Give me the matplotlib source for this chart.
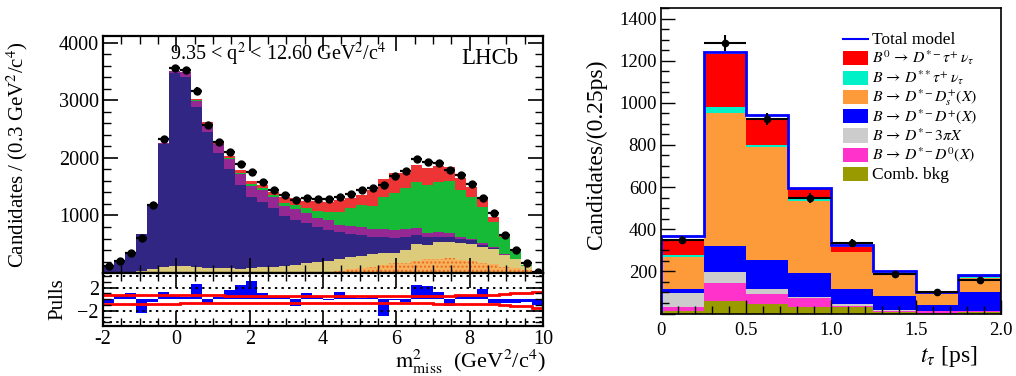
import numpy as np
import matplotlib
matplotlib.use('Agg')
import matplotlib.pyplot as plt
from matplotlib.patches import Rectangle
from matplotlib.lines import Line2D
from matplotlib.ticker import MultipleLocator, FixedLocator, FuncFormatter

plt.rcParams['font.family'] = ['Liberation Serif', 'DejaVu Serif']
plt.rcParams['mathtext.fontset'] = 'stix'
plt.rcParams['hatch.linewidth'] = 1.0

# ---------------- left panel data (m2_miss, 0.3 GeV^2/c^4 bins) ----------------
mm_range = (-2.0, 10.0)
mm_nbins = 40
mm_data = [130, 209, 342, 614, 1183, 2325, 3560, 3525, 3171, 2580, 2272, 2110, 1890, 1751,
           1588, 1438, 1357, 1270, 1310, 1293, 1281, 1316, 1380, 1443, 1484, 1530, 1687, 1774,
           1983, 1930, 1918, 1797, 1710, 1542, 1304, 1038, 656, 400, 168, 25]
mm_err = [11, 14, 18, 25, 34, 48, 60, 59, 56, 51, 48, 46, 43, 42, 40, 38, 37, 36, 36, 36,
          36, 36, 37, 38, 39, 39, 41, 42, 45, 44, 44, 42, 41, 39, 36, 32, 26, 20, 13, 5]
mm_orange = [0] * 17 + [5, 10, 18, 25, 40, 64, 85, 110, 139, 168, 180, 209, 238, 238, 255,
                        226, 209, 180, 151, 110, 81, 52, 20]
mm_tan = [10, 15, 20, 35, 64, 99, 122, 122, 99, 81, 87, 81, 75, 95, 105, 110, 127, 135, 158,
          167, 184, 200, 206, 215, 220, 201, 186, 220, 295, 249, 295, 278, 290, 295, 278, 261,
          203, 157, 70, 5]
mm_indigo = [115, 180, 340, 635, 1116, 2136, 3350, 3293, 2794, 2365, 1994, 1728, 1450, 1232,
             1135, 1015, 864, 782, 696, 621, 539, 479, 408, 361, 291, 280, 256, 232, 157, 134,
             87, 99, 81, 70, 23, 17, 5, 2, 1, 0]
mm_purple = [5, 5, 6, 8, 12, 17, 36, 75, 104, 139, 159, 168, 191, 192, 203, 202, 174, 191, 174,
             156, 174, 116, 145, 145, 139, 151, 138, 128, 116, 69, 88, 58, 24, 26, 35, 17, 4, 2,
             1, 0]
mm_green = [0, 0, 0, 0, 0, 0, 2, 3, 6, 10, 10, 18, 24, 26, 32, 30, 58, 64, 87, 122, 145, 232,
            302, 377, 405, 556, 638, 712, 800, 840, 869, 910, 822, 727, 626, 441, 310, 141, 15, 5]
mm_red = [2, 2, 2, 4, 4, 6, 5, 5, 23, 25, 17, 46, 51, 61, 55, 57, 104, 122, 133, 174, 168, 203,
          174, 174, 278, 303, 347, 273, 301, 302, 284, 238, 215, 163, 139, 81, 8, 2, 1, 0]
pulls = [-0.7, 0.7, 1.1, -2.3, -0.4, 1.25, 0.5, 0.3, 2.6, -0.7, 0.3, 1.5, 2.4, 3.1, 1.0, 0.6,
         0.5, -1.1, 1.0, 0.6, -0.2, 1.2, 0.3, 0.2, 0.3, -2.85, -0.2, -0.55, 2.4, 2.2, 1.25,
         -1.2, 0.8, 0.8, 1.8, -0.6, -0.7, -0.7, -0.5, -1.0]
pull_band_up = [0.8, 0.8, 0.75, 0.75, 0.7, 0.7, 0.7, 0.7, 0.65, 0.65, 0.65, 0.6, 0.6, 0.6, 0.6,
                0.55, 0.55, 0.55, 0.55, 0.55, 0.55, 0.55, 0.55, 0.55, 0.55, 0.55, 0.55, 0.6,
                0.6, 0.6, 0.6, 0.6, 0.65, 0.7, 0.7, 0.8, 0.9, 1.0, 1.0, 1.3]
pull_band_dn = [-0.8, -0.8, -0.8, -0.75, -0.75, -0.75, -0.75, -0.7, -0.7, -0.7, -0.7, -0.7,
                -0.7, -0.7, -0.7, -0.7, -0.7, -0.7, -0.7, -0.7, -0.7, -0.7, -0.7, -0.7, -0.7,
                -0.7, -0.7, -0.7, -0.7, -0.7, -0.75, -0.75, -0.8, -0.8, -0.85, -0.9, -1.0,
                -1.1, -1.1, -1.45]

# ---------------- right panel data (t_tau, 0.25 ps bins) ----------------
tt_range = (0.0, 2.0)
tt_nbins = 8
tt_data = [349, 1284, 924, 548, 337, 188, 104, 160]
tt_err = [19, 36, 30, 23, 18, 14, 10, 13]
tt_comb = [10, 57, 46, 33, 30, 5, 3, 5]
tt_d0 = [23, 87, 47, 40, 8, 9, 7, 7]
tt_3pi = [66, 52, 24, 5, 6, 2, 2, 2]
tt_dplus = [16, 125, 138, 113, 71, 68, 29, 89]
tt_ds = [152, 630, 533, 345, 176, 106, 54, 67]
tt_dss = [11, 29, 13, 12, 3, 2, 1, 2]
tt_sig = [72, 253, 127, 41, 24, 2, 1, 7]
tt_total = [370, 1241, 940, 598, 323, 204, 104, 183]
tt_labels = ['Total model',
             r'$B^0\,\rightarrow\,D^{*-}\tau^{+}\,\nu_{\tau}$',
             r'$B\,\rightarrow\,D^{**}\tau^{+}\,\nu_{\tau}$',
             r'$B\,\rightarrow\,D^{*-}D_s^{+}(X)$',
             r'$B\,\rightarrow\,D^{*-}D^{+}(X)$',
             r'$B\,\rightarrow\,D^{*-}3\pi X$',
             r'$B\,\rightarrow\,D^{*-}D^{0}(X)$',
             'Comb. bkg']

FS_L = 14.5   # left panel text
FS_R = 13.5   # right panel tick labels
FS_LEG = 12.5

fig = plt.figure(figsize=(10.16, 3.76), dpi=100)
ax_m = fig.add_axes([0.1014, 0.2739, 0.4331, 0.6303])
ax_p = fig.add_axes([0.1014, 0.1330, 0.4331, 0.1410], sharex=ax_m)
ax_r = fig.add_axes([0.6506, 0.1662, 0.3346, 0.8125])

# ---------- left main ----------
mm_edges = np.linspace(mm_range[0], mm_range[1], mm_nbins + 1)
mm_cent = 0.5 * (mm_edges[:-1] + mm_edges[1:])
layers = [(mm_orange, '#f6b25e', '#ee6a1a', '....'),
          (mm_tan, '#dccb7a', None, None),
          (mm_indigo, '#322685', None, None),
          (mm_purple, '#962894', None, None),
          (mm_green, '#17ba36', None, None),
          (mm_red, '#ee3535', None, None)]
base = np.zeros(mm_nbins)
for vals, fc, hc, hatch in layers:
    top = base + np.asarray(vals, float)
    ax_m.stairs(top, mm_edges, baseline=base, fill=True, facecolor=fc,
                edgecolor=hc if hc else fc, hatch=hatch, linewidth=0)
    base = top
ax_m.errorbar(mm_cent, mm_data, xerr=0.15, yerr=mm_err, fmt='o', color='k',
              ms=5, elinewidth=1.6, capsize=0, zorder=5)
ax_m.set_xlim(*mm_range)
ax_m.set_ylim(0, 4120)
ax_m.yaxis.set_major_locator(MultipleLocator(1000))
ax_m.yaxis.set_minor_locator(MultipleLocator(200))
ax_m.yaxis.set_major_formatter(FuncFormatter(lambda v, p: '' if v == 0 else f'{v:.0f}'))
ax_m.xaxis.set_major_locator(MultipleLocator(2))
ax_m.xaxis.set_minor_locator(MultipleLocator(0.5))
ax_m.tick_params(which='both', direction='in', top=True, right=True, labelbottom=False,
                 labelsize=FS_L, pad=3)
ax_m.tick_params(which='major', length=11, width=1.2)
ax_m.tick_params(which='minor', length=5.5, width=1.0)
ax_m.set_ylabel(r'Candidates / (0.3 GeV$^2$/c$^4$)', fontsize=FS_L + 0.5)
ax_m.yaxis.set_label_coords(-0.166, 0.5)
ax_m.text(0.152, 0.899, r'9.35 < q$^2$ < 12.60 GeV$^2$/c$^4$', transform=ax_m.transAxes,
          fontsize=FS_L, ha='left', va='baseline')
ax_m.text(0.88, 0.905, 'LHCb', transform=ax_m.transAxes, fontsize=16.5,
          ha='center', va='center')
for s in ax_m.spines.values():
    s.set_linewidth(1.6)

# ---------- left pulls ----------
ax_p.stairs(pulls, mm_edges, baseline=0, fill=True, facecolor='#0000ff', linewidth=0)
for yv in (-4, -2, 2, 4):
    ax_p.axhline(yv, color='k', lw=1.4, ls=(0, (1.2, 2.2)), zorder=1)
ax_p.stairs(pull_band_up, mm_edges, baseline=None, color='#ff0000', lw=2.0)
ax_p.stairs(pull_band_dn, mm_edges, baseline=None, color='#ff0000', lw=2.0)
ax_p.set_ylim(-4.6, 4.5)
ax_p.yaxis.set_major_locator(FixedLocator([-2, 2]))
ax_p.yaxis.set_minor_locator(FixedLocator([-4, -3, -1, 0, 1, 3, 4]))
ax_p.tick_params(which='both', direction='in', top=True, right=True, labelsize=FS_L, pad=3)
ax_p.tick_params(which='major', length=11, width=1.2)
ax_p.tick_params(which='minor', length=5.5, width=1.0)
ax_p.set_ylabel('Pulls', fontsize=FS_L + 0.5)
ax_p.yaxis.set_label_coords(-0.082, 0.5)
ax_p.set_xlabel(r'$\mathrm{m}^2_{\mathrm{miss}}$  (GeV$^2$/c$^4$)', fontsize=16)
ax_p.xaxis.set_label_coords(1.005, -0.40)
ax_p.xaxis.label.set_ha('right')
ax_p.xaxis.set_major_formatter(FuncFormatter(lambda v, p: f'{v:.0f}'))
for s in ax_p.spines.values():
    s.set_linewidth(1.6)

# ---------- right panel ----------
tt_edges = np.linspace(tt_range[0], tt_range[1], tt_nbins + 1)
tt_cent = 0.5 * (tt_edges[:-1] + tt_edges[1:])
r_layers = [(tt_comb, '#999900'), (tt_d0, '#ff33cc'), (tt_3pi, '#cccccc'),
            (tt_dplus, '#0000ff'), (tt_ds, '#fd9a3a'), (tt_dss, '#00f0c8'),
            (tt_sig, '#ff0000')]
r_colors = []
base = np.zeros(tt_nbins)
for vals, fc in r_layers:
    top = base + np.asarray(vals, float)
    ax_r.stairs(top, tt_edges, baseline=base, fill=True, facecolor=fc,
                edgecolor=fc, linewidth=0)
    r_colors.append(fc)
    base = top
ax_r.stairs(tt_total, tt_edges, baseline=0, fill=False, color='#0000ff', lw=2.0)
ax_r.errorbar(tt_cent, tt_data, xerr=0.125, yerr=tt_err, fmt='o', color='k', ms=4.5,
              elinewidth=1.5, capsize=0, zorder=5)
ax_r.set_xlim(*tt_range)
ax_r.set_ylim(0, 1450)
ax_r.yaxis.set_major_locator(MultipleLocator(200))
ax_r.yaxis.set_minor_locator(MultipleLocator(50))
ax_r.yaxis.set_major_formatter(FuncFormatter(lambda v, p: '' if v == 0 else f'{v:.0f}'))
ax_r.xaxis.set_major_locator(MultipleLocator(0.5))
ax_r.xaxis.set_minor_locator(MultipleLocator(0.1))
ax_r.xaxis.set_major_formatter(FuncFormatter(lambda v, p: '0' if v == 0 else f'{v:.1f}'))
ax_r.tick_params(which='both', direction='in', labelsize=FS_R)
ax_r.tick_params(axis='x', which='both', pad=6)
ax_r.tick_params(axis='y', which='both', pad=3)
ax_r.tick_params(which='major', length=10, width=1.0)
ax_r.tick_params(which='minor', length=5.5, width=1.0)
ax_r.set_ylabel('Candidates/(0.25ps)', fontsize=17)
ax_r.yaxis.set_label_coords(-0.159, 0.52)
ax_r.set_xlabel(r'$t_{\tau}$ [ps]', fontsize=17)
ax_r.xaxis.set_label_coords(0.93, -0.100)
ax_r.xaxis.label.set_ha('right')
for s in ax_r.spines.values():
    s.set_linewidth(1.2)

# legend (drawn entry by entry for exact row spacing)
leg_x0, leg_w, leg_h = 0.535, 0.0735, 0.046
leg_tx = 0.6206
row_y = [(313.5 - (39 + 19.3 * i)) / 305.5 for i in range(len(tt_labels))]
base_off = 5.0 / 305.5
leg_fill = r_colors[::-1]  # signal first ... comb last
ax_r.add_line(Line2D([leg_x0, leg_x0 + leg_w], [row_y[0], row_y[0]], color='#0000ff',
                     lw=1.5, transform=ax_r.transAxes))
for i, lab in enumerate(tt_labels):
    if i > 0:
        ax_r.add_patch(Rectangle((leg_x0, row_y[i] - leg_h / 2), leg_w, leg_h,
                                 facecolor=leg_fill[i - 1], edgecolor='none',
                                 transform=ax_r.transAxes))
    ax_r.text(leg_tx, row_y[i] - base_off, lab, transform=ax_r.transAxes,
              fontsize=FS_LEG if i in (0, 7) else 11.3, ha='left', va='baseline')

fig.savefig('out.png', dpi=100)
